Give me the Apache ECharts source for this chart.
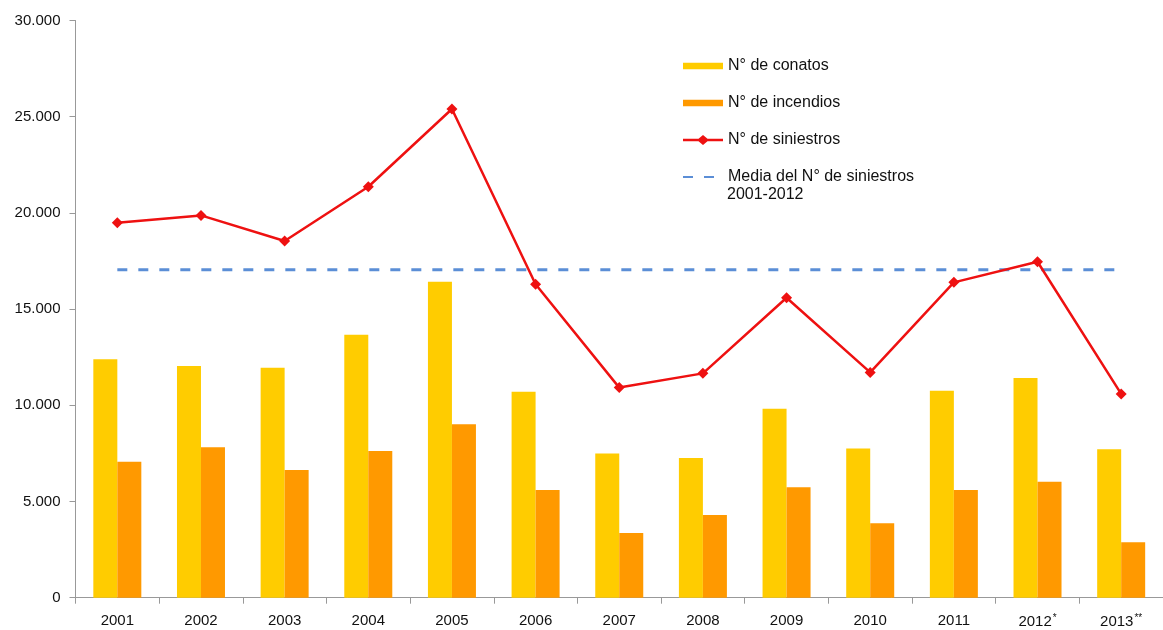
<!DOCTYPE html>
<html>
<head>
<meta charset="utf-8">
<script src="https://cdn.jsdelivr.net/npm/echarts@6/dist/echarts.min.js"></script>
<style>
html,body{margin:0;padding:0;background:#fff;}
#chart{width:1163px;height:630px;}
</style>
</head>
<body>
<div id="chart"></div>
<script>
var years = ['2001','2002','2003','2004','2005','2006','2007','2008','2009','2010','2011','2012*','2013**'];
var conatos = [12390, 12040, 11950, 13670, 16420, 10710, 7500, 7260, 9820, 7750, 10760, 11420, 7710];
var incendios = [7070, 7820, 6640, 7620, 9010, 5600, 3360, 4300, 5740, 3870, 5600, 6030, 2880];
var siniestros = [19490, 19870, 18540, 21360, 25400, 16290, 10920, 11660, 15590, 11710, 16390, 17460, 10590];
var media = [17050, 17050, 17050, 17050, 17050, 17050, 17050, 17050, 17050, 17050, 17050, 17050, 17050];
var yTicks = [0, 5000, 10000, 15000, 20000, 25000, 30000];

var FONT = 'Liberation Sans, Arial, sans-serif';
var chart = echarts.init(document.getElementById('chart'));
chart.setOption({
  animation: false,
  backgroundColor: '#ffffff',
  textStyle: { fontFamily: FONT },
  grid: { left: 75.5, top: 20.5, height: 577.2, width: 1093, containLabel: false },
  legend: {
    orient: 'vertical',
    left: 677,
    top: 53,
    itemWidth: 40,
    itemHeight: 10,
    itemGap: 21,
    textStyle: { fontFamily: FONT, fontSize: 16, color: '#111' },
    formatter: function (n) { return n.indexOf('Media') === 0 ? 'Media del N° de siniestros' : n; },
    data: [
      { name: 'N° de conatos', icon: 'path://M0,0h40v6.5h-40z' },
      { name: 'N° de incendios', icon: 'path://M0,0h40v6.5h-40z' },
      { name: 'N° de siniestros', icon: 'path://M0,3.8h15.5l4.5,-3.8l4.5,3.8h15.5v2.4h-15.5l-4.5,3.8l-4.5,-3.8h-15.5z' },
      { name: 'Media del N° de siniestros 2001-2012', itemStyle: { opacity: 0 } }
    ]
  },
  graphic: [{
    type: 'text', left: 727, top: 187,
    style: { text: '2001-2012', font: '16px ' + FONT, fill: '#111' }
  }],
  xAxis: {
    type: 'category',
    data: years,
    axisLine: { lineStyle: { color: '#999', width: 1 } },
    axisTick: { show: true, interval: 0, length: 6, lineStyle: { color: '#999' } },
    axisLabel: {
      interval: 0,
      color: '#111', fontSize: 15, fontFamily: FONT, margin: 16,
      formatter: function (v) {
        var m = v.match(/^(\d+)(\**)$/);
        return m[2] ? m[1] + '{sup|' + m[2] + '}' : v;
      },
      rich: { sup: { fontSize: 10, verticalAlign: 'top', padding: [0, 0, 6, 1], color: '#111', fontFamily: FONT } }
    }
  },
  yAxis: {
    type: 'value',
    min: yTicks[0],
    max: yTicks[yTicks.length - 1],
    interval: 5000,
    splitLine: { show: false },
    axisLine: { show: true, lineStyle: { color: '#999', width: 1 } },
    axisTick: { show: true, length: 6, lineStyle: { color: '#999' } },
    axisLabel: {
      color: '#111', fontSize: 15, fontFamily: FONT, margin: 15,
      formatter: function (v) { return v === 0 ? '0' : String(v).replace(/\B(?=(\d{3})+(?!\d))/g, '.'); }
    }
  },
  series: [
    {
      name: 'N° de conatos', type: 'bar', data: conatos, barWidth: 24, barGap: '0%',
      itemStyle: { color: '#FFCC00' }
    },
    {
      name: 'N° de incendios', type: 'bar', data: incendios, barWidth: 24, barGap: '0%',
      itemStyle: { color: '#FF9900' }
    },
    {
      name: 'Media del N° de siniestros 2001-2012', type: 'line', data: media,
      symbol: 'none', z: 3,
      lineStyle: { color: '#5B8ED6', width: 3, type: [10, 11] },
      itemStyle: { color: '#5B8ED6' }
    },
    {
      name: 'N° de siniestros', type: 'line', data: siniestros,
      symbol: 'diamond', symbolSize: 11, z: 4,
      lineStyle: { color: '#EE1111', width: 2.5 },
      itemStyle: { color: '#EE1111' }
    }
  ]
});
</script>
</body>
</html>
